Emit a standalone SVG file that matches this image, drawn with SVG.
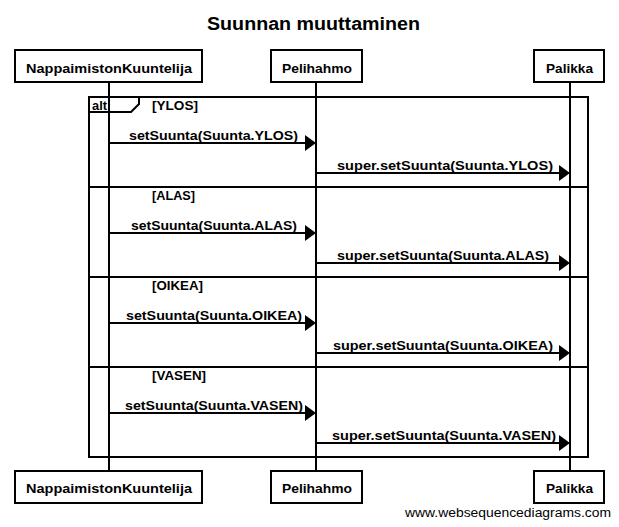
<svg xmlns="http://www.w3.org/2000/svg" width="619" height="527" viewBox="0 0 619 527">
<style>
.box{fill:#fff;stroke:#000;stroke-width:2}
.life{stroke:#000;stroke-width:2}
.msg{stroke:#000;stroke-width:2;fill:none}
.frame{fill:none;stroke:#000;stroke-width:2}
text{font-family:"Liberation Sans",Arial,sans-serif;fill:#000}
.lbl{font-size:12px;font-weight:bold}
.title{font-size:18px;font-weight:bold}
.wm{font-size:12px}
</style>
<defs>
<marker id="ah" viewBox="0 0 11 16" refX="5" refY="8" markerWidth="11" markerHeight="16" markerUnits="userSpaceOnUse" orient="auto">
<path d="M0,0 L11,8 L0,16 Z" fill="#000"/>
</marker>
</defs>
<rect width="619" height="527" fill="#fff"/>
<text class="title" x="313.5" y="30" text-anchor="middle" textLength="213" lengthAdjust="spacingAndGlyphs">Suunnan muuttaminen</text>

<g id="lifelines">
<line class="life" x1="109" y1="82" x2="109" y2="471"/>
<line class="life" x1="316" y1="82" x2="316" y2="471"/>
<line class="life" x1="570" y1="82" x2="570" y2="471"/>
</g>

<g id="alt-frame">
<rect class="frame" x="89" y="97" width="499" height="360"/>
<path class="frame" d="M89,97 H139 V104 L131,112 H89"/>
<line class="frame" x1="89" y1="187" x2="588" y2="187"/>
<line class="frame" x1="89" y1="277" x2="588" y2="277"/>
<line class="frame" x1="89" y1="367" x2="588" y2="367"/>
<text class="lbl" x="92" y="110" textLength="15" lengthAdjust="spacingAndGlyphs">alt</text>
<text class="lbl" x="152" y="110" textLength="46" lengthAdjust="spacingAndGlyphs">[YLOS]</text>
<text class="lbl" x="152" y="200" textLength="43" lengthAdjust="spacingAndGlyphs">[ALAS]</text>
<text class="lbl" x="152" y="290" textLength="51" lengthAdjust="spacingAndGlyphs">[OIKEA]</text>
<text class="lbl" x="152" y="380" textLength="54" lengthAdjust="spacingAndGlyphs">[VASEN]</text>
</g>

<g id="connectors">
<line class="msg" x1="109" y1="143" x2="310" y2="143" marker-end="url(#ah)"/>
<text class="lbl" x="213.5" y="140" text-anchor="middle" textLength="169" lengthAdjust="spacingAndGlyphs">setSuunta(Suunta.YLOS)</text>
<line class="msg" x1="316" y1="173" x2="564" y2="173" marker-end="url(#ah)"/>
<text class="lbl" x="445" y="170" text-anchor="middle" textLength="216" lengthAdjust="spacingAndGlyphs">super.setSuunta(Suunta.YLOS)</text>

<line class="msg" x1="109" y1="233" x2="310" y2="233" marker-end="url(#ah)"/>
<text class="lbl" x="214" y="230" text-anchor="middle" textLength="166" lengthAdjust="spacingAndGlyphs">setSuunta(Suunta.ALAS)</text>
<line class="msg" x1="316" y1="263" x2="564" y2="263" marker-end="url(#ah)"/>
<text class="lbl" x="443" y="260" text-anchor="middle" textLength="212" lengthAdjust="spacingAndGlyphs">super.setSuunta(Suunta.ALAS)</text>

<line class="msg" x1="109" y1="323" x2="310" y2="323" marker-end="url(#ah)"/>
<text class="lbl" x="214" y="320" text-anchor="middle" textLength="176" lengthAdjust="spacingAndGlyphs">setSuunta(Suunta.OIKEA)</text>
<line class="msg" x1="316" y1="353" x2="564" y2="353" marker-end="url(#ah)"/>
<text class="lbl" x="443" y="350" text-anchor="middle" textLength="220" lengthAdjust="spacingAndGlyphs">super.setSuunta(Suunta.OIKEA)</text>

<line class="msg" x1="109" y1="413" x2="310" y2="413" marker-end="url(#ah)"/>
<text class="lbl" x="214" y="410" text-anchor="middle" textLength="178" lengthAdjust="spacingAndGlyphs">setSuunta(Suunta.VASEN)</text>
<line class="msg" x1="316" y1="443" x2="564" y2="443" marker-end="url(#ah)"/>
<text class="lbl" x="444" y="440" text-anchor="middle" textLength="224" lengthAdjust="spacingAndGlyphs">super.setSuunta(Suunta.VASEN)</text>
</g>

<g id="node-nappaimistonkuuntelija-top">
<rect class="box" x="15" y="50" width="187" height="32"/>
<text class="lbl" x="109" y="73" text-anchor="middle" textLength="166" lengthAdjust="spacingAndGlyphs">NappaimistonKuuntelija</text>
</g>
<g id="node-pelihahmo-top">
<rect class="box" x="271" y="50" width="91" height="32"/>
<text class="lbl" x="317" y="73" text-anchor="middle" textLength="70" lengthAdjust="spacingAndGlyphs">Pelihahmo</text>
</g>
<g id="node-palikka-top">
<rect class="box" x="534" y="50" width="70" height="32"/>
<text class="lbl" x="569.5" y="73" text-anchor="middle" textLength="47" lengthAdjust="spacingAndGlyphs">Palikka</text>
</g>

<g id="node-nappaimistonkuuntelija-bottom">
<rect class="box" x="15" y="471" width="187" height="32"/>
<text class="lbl" x="109" y="493" text-anchor="middle" textLength="166" lengthAdjust="spacingAndGlyphs">NappaimistonKuuntelija</text>
</g>
<g id="node-pelihahmo-bottom">
<rect class="box" x="271" y="471" width="91" height="32"/>
<text class="lbl" x="317" y="493" text-anchor="middle" textLength="70" lengthAdjust="spacingAndGlyphs">Pelihahmo</text>
</g>
<g id="node-palikka-bottom">
<rect class="box" x="534" y="471" width="70" height="32"/>
<text class="lbl" x="569.5" y="493" text-anchor="middle" textLength="47" lengthAdjust="spacingAndGlyphs">Palikka</text>
</g>

<text class="wm" x="405" y="517" textLength="206" lengthAdjust="spacingAndGlyphs">www.websequencediagrams.com</text>
</svg>
